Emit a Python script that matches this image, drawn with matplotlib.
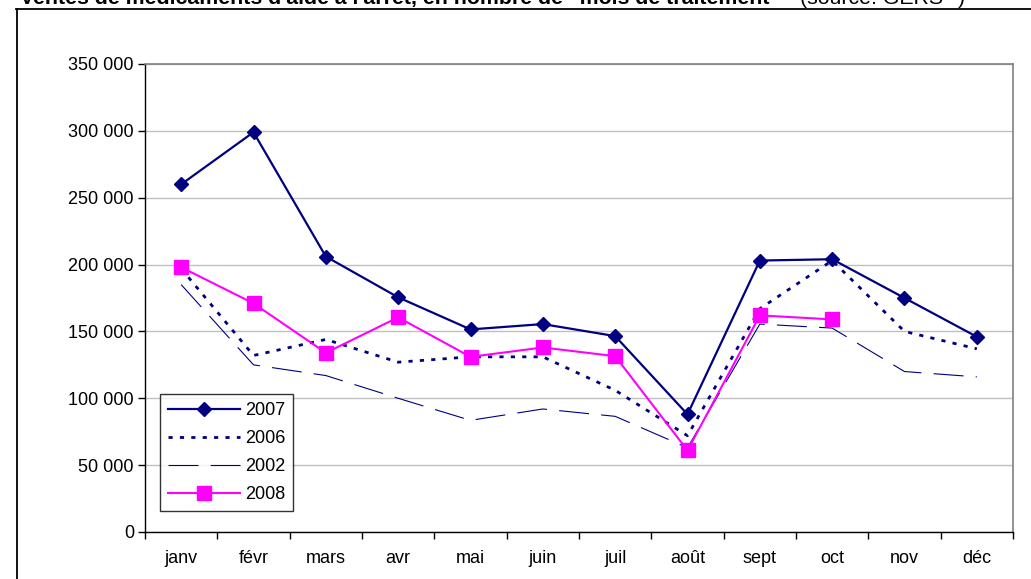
import numpy as np
import matplotlib
matplotlib.use("Agg")
import matplotlib.pyplot as plt
from matplotlib.lines import Line2D
from matplotlib.ticker import FuncFormatter, MultipleLocator

plt.rcParams["font.family"] = ["Liberation Sans", "DejaVu Sans"]

# -----------------------------
# data
# -----------------------------
months = ["janv", "févr", "mars", "avr", "mai", "juin", "juil", "août",
          "sept", "oct", "nov", "déc"]
v2007 = [260000, 299000, 206000, 175500, 151500, 155500, 146500, 88000,
         203000, 204000, 175000, 146000]
v2006 = [197000, 132000, 144000, 127000, 131000, 131000, 106000, 72000,
         167000, 203000, 150000, 137000]
v2002 = [185000, 125000, 117000, 100000, 83500, 92000, 86500, 63000,
         155500, 152500, 120000, 116000]
v2008 = [198000, 171000, 134000, 160500, 131000, 138000, 131500, 61000,
         162000, 159000]

NAVY = "#000080"
MAGENTA = "#FF00FF"
FS = 13

W, H = 1031, 579
fig = plt.figure(figsize=(W / 100, H / 100), dpi=100)

# plot area in pixels: left 145, right 1013, top 64, bottom 532
ax = fig.add_axes([145 / W, 1 - 532 / H, (1013 - 145) / W, (532 - 64) / H])

x = np.arange(len(months))

ax.plot(x, v2002, color=NAVY, lw=0.8, dashes=(27, 11), label="2002", zorder=2)
ax.plot(x, v2006, color=NAVY, lw=2.0, dashes=(1.5, 2.6), label="2006", zorder=3)
ax.plot(np.arange(len(v2008)), v2008, color=MAGENTA, lw=1.5, marker="s",
        markersize=9.5, label="2008", zorder=4)
ax.plot(x, v2007, color=NAVY, lw=1.6, marker="D", markersize=7,
        label="2007", zorder=5)

ax.set_xlim(-0.5, 11.5)
ax.set_ylim(0, 350000)

# y axis
ax.yaxis.set_major_locator(MultipleLocator(50000))
ax.yaxis.set_major_formatter(FuncFormatter(lambda v, p: f"{int(v):,}".replace(",", " ")))
ax.tick_params(axis="y", direction="out", length=5, width=1, pad=3, labelsize=FS)
ax.grid(axis="y", color="#C0C0C0", lw=1)
ax.set_axisbelow(True)

# x axis: labels at centres, tick marks between categories
ax.set_xticks(x)
ax.set_xticklabels(months)
ax.set_xticks(np.arange(-0.5, 12, 1), minor=True)
ax.tick_params(axis="x", which="major", length=0, pad=13, labelsize=FS)
ax.tick_params(axis="x", which="minor", direction="out", length=5, width=1)

for side in ("top", "right"):
    ax.spines[side].set_color("#808080")
    ax.spines[side].set_linewidth(1.2)
for side in ("left", "bottom"):
    ax.spines[side].set_color("black")
    ax.spines[side].set_linewidth(1)

# legend in the order of the reference
handles, labels = ax.get_legend_handles_labels()
order = [labels.index(l) for l in ["2007", "2006", "2002", "2008"]]
leg = ax.legend([handles[i] for i in order], [labels[i] for i in order],
                loc="lower left", bbox_to_anchor=(15 / 868, 21 / 468),
                fontsize=FS, frameon=True, fancybox=False, edgecolor="black",
                handlelength=4.0, handletextpad=0.3, labelspacing=0.62,
                borderpad=0.42, borderaxespad=0)
leg.get_frame().set_linewidth(1)

# outer chart frame (cut at right/bottom)
fig.add_artist(Line2D([16.5 / W, 16.5 / W], [0, 1 - 9 / H], color="black", lw=1.3))
fig.add_artist(Line2D([16 / W, 1], [1 - 9 / H, 1 - 9 / H], color="black", lw=1.3))

# title, clipped at the top edge
fig.text(20 / W, 1 - 4 / H, "Ventes de médicaments d'aide à l'arrêt, en nombre de \u201cmois de traitement\u201d",
         fontsize=15.3, fontweight="bold", va="baseline", ha="left")
fig.text(800 / W, 1 - 4 / H, "(source: GERS", fontsize=15.3, va="baseline", ha="left")
fig.text(958 / W, 1 - 4 / H, ")", fontsize=15.3, va="baseline", ha="left")

fig.savefig("out.png", dpi=100)
